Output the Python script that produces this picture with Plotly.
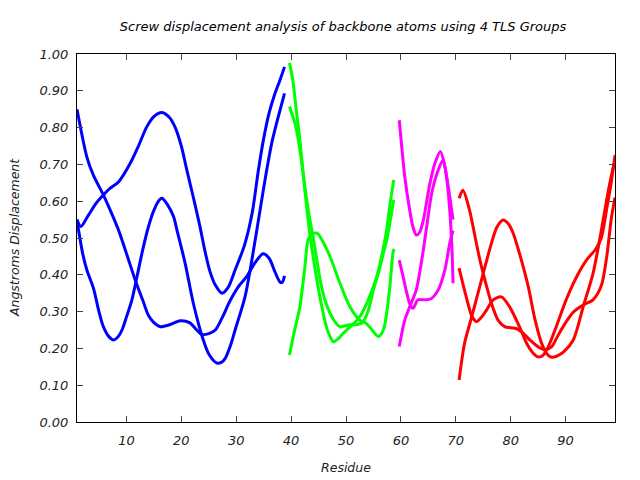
import plotly.graph_objects as go

# ---- data (Residue, Angstroms Displacement) ----
blue_a_x = [1, 2.8, 4, 5.8, 7.5, 8.6, 10.1, 11.6, 13, 14, 15, 16.2, 18, 19.8, 21.5, 22.8, 23.7, 25, 26.2, 27.5, 28.9, 30.5, 31.9, 33.3, 34.9, 36, 37, 38, 38.4, 38.8]
blue_a_y = [0.85, 0.72, 0.67, 0.617, 0.56, 0.52, 0.454, 0.386, 0.33, 0.29, 0.27, 0.259, 0.265, 0.275, 0.27, 0.25, 0.238, 0.24, 0.25, 0.285, 0.33, 0.37, 0.395, 0.43, 0.457, 0.445, 0.41, 0.38, 0.38, 0.397]

blue_b_x = [1, 1.7, 3, 4.5, 5.8, 7, 8.6, 10.7, 12.2, 13.7, 15, 16.5, 17.8, 18.9, 20, 21, 22.2, 23.4, 24.3, 25.2, 26.2, 27.4, 28.5, 29.8, 31.5, 32.9, 34, 35, 36, 37, 38, 38.8]
blue_b_y = [0.55, 0.531, 0.56, 0.595, 0.617, 0.635, 0.653, 0.703, 0.75, 0.802, 0.83, 0.841, 0.828, 0.80, 0.75, 0.685, 0.61, 0.531, 0.465, 0.41, 0.372, 0.35, 0.365, 0.413, 0.48, 0.567, 0.68, 0.77, 0.84, 0.89, 0.93, 0.965]

blue_c_x = [1, 1.3, 2, 2.8, 4, 5, 5.8, 6.8, 7.7, 8.5, 9.2, 10, 11, 12, 13, 14, 15, 16, 16.5, 17.5, 18.6, 19.2, 20.7, 22.2, 24, 25, 26.5, 27.3, 28, 29, 29.8, 31.6, 33.3, 34.5, 35.5, 36.5, 37.5, 38.8]
blue_c_y = [0.549, 0.52, 0.46, 0.413, 0.363, 0.30, 0.259, 0.232, 0.223, 0.232, 0.25, 0.285, 0.332, 0.40, 0.47, 0.53, 0.575, 0.603, 0.608, 0.59, 0.558, 0.522, 0.431, 0.322, 0.223, 0.185, 0.16, 0.162, 0.173, 0.21, 0.25, 0.34, 0.48, 0.59, 0.68, 0.76, 0.82, 0.893]

green_a_x = [39.7, 40.3, 41, 41.6, 42.5, 43.4, 44.7, 45.6, 46.5, 47.1, 47.7, 48.5, 49.5, 51, 52.5, 54, 55.6, 56.5, 57.4, 58, 58.7]
green_a_y = [0.976, 0.93, 0.84, 0.766, 0.63, 0.513, 0.386, 0.313, 0.255, 0.232, 0.218, 0.225, 0.241, 0.262, 0.286, 0.33, 0.395, 0.45, 0.522, 0.59, 0.658]

green_b_x = [39.7, 40.7, 41.5, 42.5, 43.3, 44.1, 45.3, 46.2, 47.1, 48, 48.9, 50, 50.7, 52, 53, 54, 55, 56, 56.8, 57.5, 58.2, 58.7]
green_b_y = [0.857, 0.812, 0.75, 0.64, 0.56, 0.495, 0.386, 0.33, 0.295, 0.272, 0.259, 0.262, 0.264, 0.265, 0.27, 0.30, 0.359, 0.41, 0.458, 0.50, 0.56, 0.603]

green_c_x = [39.7, 40.5, 41.6, 42.5, 43.1, 43.8, 44.7, 45.8, 47.1, 48.9, 50.7, 52.5, 53.5, 54.5, 55.9, 56.8, 57.4, 58, 58.6, 58.8]
green_c_y = [0.182, 0.24, 0.313, 0.42, 0.495, 0.51, 0.513, 0.49, 0.449, 0.377, 0.313, 0.277, 0.27, 0.255, 0.232, 0.25, 0.295, 0.37, 0.463, 0.47]

magenta_a_x = [59.7, 60.2, 60.7, 61.6, 62.2, 62.8, 63.4, 64.1, 64.7, 65.3, 66.2, 67.2, 68, 68.9, 69.3, 69.5]
magenta_a_y = [0.82, 0.74, 0.667, 0.576, 0.53, 0.508, 0.515, 0.549, 0.60, 0.649, 0.703, 0.735, 0.694, 0.612, 0.57, 0.55]

magenta_b_x = [59.7, 60.4, 61, 61.6, 62.2, 63.1, 64.4, 65.5, 66.8, 68, 68.9, 69.3, 69.5]
magenta_b_y = [0.44, 0.395, 0.355, 0.322, 0.309, 0.332, 0.332, 0.335, 0.359, 0.413, 0.486, 0.51, 0.52]

magenta_c_x = [59.7, 60.7, 61.6, 62.8, 63.8, 64.7, 65.6, 66.8, 67.7, 68.3, 68.9, 69.3, 69.5]
magenta_c_y = [0.205, 0.277, 0.313, 0.359, 0.44, 0.531, 0.621, 0.685, 0.712, 0.667, 0.576, 0.47, 0.377]

red_a_x = [70.6, 71.3, 72.5, 73.5, 74.4, 75.3, 76.5, 77.7, 78.9, 80, 81, 82, 83.5, 84.5, 85.5, 86.5, 87.5, 88.5, 90, 91.5, 93.2, 95, 96.5, 97.5, 98.3, 99]
red_a_y = [0.608, 0.63, 0.576, 0.504, 0.44, 0.386, 0.322, 0.277, 0.259, 0.256, 0.254, 0.245, 0.223, 0.21, 0.2, 0.197, 0.205, 0.232, 0.27, 0.30, 0.318, 0.332, 0.37, 0.45, 0.55, 0.61]

red_b_x = [70.6, 71.9, 73, 73.8, 74.7, 75.6, 76.8, 78.3, 79.8, 81.6, 82.9, 84.1, 85, 85.8, 86.7, 88.3, 90.1, 92.2, 93.8, 95.5, 96.5, 97.5, 98.3, 99]
red_b_y = [0.418, 0.34, 0.285, 0.273, 0.285, 0.304, 0.332, 0.34, 0.313, 0.259, 0.214, 0.187, 0.177, 0.18, 0.2, 0.259, 0.332, 0.40, 0.44, 0.47, 0.50, 0.58, 0.65, 0.725]

red_c_x = [70.6, 71.6, 72.9, 75, 76.5, 77.5, 78.6, 79.5, 80.4, 81.6, 83.2, 84.4, 85.6, 86.6, 87.5, 88.5, 89.6, 91.4, 93.2, 95, 96.2, 97.8, 98.5, 99]
red_c_y = [0.114, 0.214, 0.286, 0.404, 0.486, 0.53, 0.549, 0.54, 0.515, 0.458, 0.368, 0.28, 0.215, 0.185, 0.176, 0.18, 0.19, 0.223, 0.313, 0.404, 0.495, 0.63, 0.68, 0.71]

x_ticks = [10, 20, 30, 40, 50, 60, 70, 80, 90]
y_ticks = [0.0, 0.1, 0.2, 0.3, 0.4, 0.5, 0.6, 0.7, 0.8, 0.9, 1.0]

groups = [
    ("#0000ff", [(blue_a_x, blue_a_y), (blue_b_x, blue_b_y), (blue_c_x, blue_c_y)]),
    ("#00ff00", [(green_a_x, green_a_y), (green_b_x, green_b_y), (green_c_x, green_c_y)]),
    ("#ff00ff", [(magenta_a_x, magenta_a_y), (magenta_b_x, magenta_b_y), (magenta_c_x, magenta_c_y)]),
    ("#ff0000", [(red_a_x, red_a_y), (red_b_x, red_b_y), (red_c_x, red_c_y)]),
]

fig = go.Figure()
for color, curves in groups:
    for xs, ys in curves:
        fig.add_trace(go.Scatter(x=xs, y=ys, mode="lines",
                                 line=dict(color=color, width=3, shape="spline", smoothing=0.8),
                                 showlegend=False, hoverinfo="skip"))

font_family = "DejaVu Sans"
fig.update_layout(
    width=640, height=480,
    margin=dict(l=77, r=25, t=54, b=58),
    paper_bgcolor="white", plot_bgcolor="white",
    font=dict(family=font_family, size=13, color="#222222", style="italic"),
    title=dict(text="Screw displacement analysis of backbone atoms using 4 TLS Groups",
               x=0.536, xanchor="center", y=0.945, yanchor="middle",
               font=dict(family=font_family, size=13, color="#000000", style="italic")),
    showlegend=False,
    annotations=[
        dict(text="Residue", xref="paper", yref="paper", x=0.5, y=-0.1223,
             xanchor="center", yanchor="middle", showarrow=False,
             font=dict(family=font_family, size=12.5, color="#222222", style="italic")),
        dict(text="Angstroms Displacement", xref="paper", yref="paper", x=-0.117, y=0.5,
             xanchor="center", yanchor="middle", showarrow=False, textangle=-90,
             font=dict(family=font_family, size=12.5, color="#222222", style="italic")),
    ],
)
fig.update_xaxes(range=[1, 99], tickvals=x_ticks, ticks="inside", ticklen=6,
                 ticklabelstandoff=6, automargin=False,
                 showline=True, linecolor="black", linewidth=1, mirror="allticks",
                 showgrid=False, zeroline=False)
fig.update_yaxes(range=[0, 1], tickvals=y_ticks, tickformat=".2f", ticks="inside", ticklen=6,
                 ticklabelstandoff=5, automargin=False,
                 showline=True, linecolor="black", linewidth=1, mirror="allticks",
                 showgrid=False, zeroline=False)

fig.write_html("out.html")
